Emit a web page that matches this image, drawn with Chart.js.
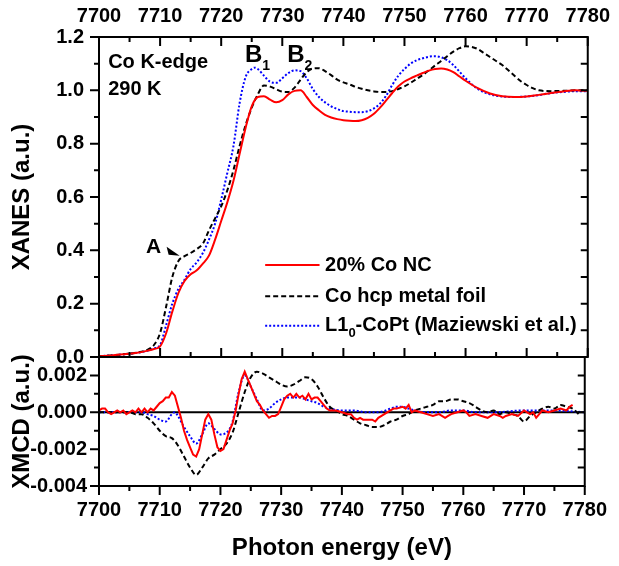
<!DOCTYPE html>
<html>
<head>
<meta charset="utf-8">
<script src="https://cdn.jsdelivr.net/npm/chart.js@4.4.1/dist/chart.umd.min.js"></script>
<style>
html, body { margin: 0; padding: 0; background: #fff; }
#wrap { position: relative; width: 619px; height: 566px; }
#wrap canvas { position: absolute; left: 0; top: 0; }
</style>
</head>
<body>
<div id="wrap">
  <canvas id="xanes" width="619" height="566"></canvas>
  <canvas id="xmcd" width="619" height="566"></canvas>
</div>
<script>
// --- Data ---
const energyTicks = [7700, 7710, 7720, 7730, 7740, 7750, 7760, 7770, 7780];
const xanesTicks = [0.0, 0.2, 0.4, 0.6, 0.8, 1.0, 1.2];
const xmcdTicks = [-0.004, -0.002, 0.000, 0.002];

// XANES, 20% Co NC
const ncE = [7700, 7702, 7704, 7706, 7708, 7709, 7710, 7711, 7712, 7713, 7714, 7715, 7716, 7717, 7718, 7719, 7720,
  7721, 7722, 7723, 7724, 7725, 7726, 7727, 7728, 7729, 7730, 7731, 7732, 7733, 7734, 7735, 7736, 7737, 7738, 7739,
  7740, 7741, 7742, 7743, 7744, 7745, 7746, 7747, 7748, 7749, 7750, 7751, 7752, 7753, 7754, 7755, 7756, 7757, 7758,
  7759, 7760, 7762, 7764, 7766, 7768, 7770, 7772, 7774, 7776, 7778, 7780];
const ncXanes = [0.003, 0.006, 0.010, 0.015, 0.024, 0.030, 0.040, 0.090, 0.170, 0.240, 0.285, 0.310, 0.325, 0.350,
  0.380, 0.440, 0.510, 0.580, 0.660, 0.760, 0.860, 0.940, 0.975, 0.978, 0.965, 0.955, 0.963, 0.985, 0.998, 1.000,
  0.975, 0.945, 0.925, 0.908, 0.898, 0.892, 0.888, 0.886, 0.885, 0.888, 0.897, 0.912, 0.935, 0.962, 0.990, 1.015,
  1.033, 1.045, 1.055, 1.065, 1.074, 1.080, 1.082, 1.078, 1.068, 1.052, 1.036, 1.008, 0.988, 0.978, 0.975, 0.977,
  0.983, 0.990, 0.996, 1.000, 0.998];

// XANES, Co hcp metal foil
const foilE = [7700, 7702, 7704, 7706, 7708, 7709, 7710, 7711, 7712, 7713, 7714, 7715, 7716, 7717, 7718, 7719, 7720,
  7721, 7722, 7723, 7724, 7725, 7726, 7727, 7728, 7729, 7730, 7731, 7732, 7733, 7734, 7735, 7736, 7737, 7738, 7739,
  7740, 7741, 7742, 7743, 7744, 7745, 7746, 7747, 7748, 7749, 7750, 7751, 7752, 7753, 7754, 7755, 7756, 7757, 7758,
  7759, 7760, 7761, 7762, 7763, 7764, 7765, 7766, 7767, 7768, 7769, 7770, 7771, 7772, 7774, 7776, 7778, 7780];
const foilXanes = [0.003, 0.006, 0.010, 0.016, 0.028, 0.045, 0.090, 0.190, 0.300, 0.360, 0.378, 0.390, 0.405, 0.425,
  0.475, 0.520, 0.565, 0.625, 0.700, 0.790, 0.870, 0.935, 0.985, 1.018, 1.014, 1.004, 0.995, 0.994, 1.010, 1.040,
  1.068, 1.082, 1.083, 1.072, 1.057, 1.040, 1.030, 1.022, 1.013, 1.006, 1.000, 0.996, 0.994, 0.994, 0.997, 1.005,
  1.015, 1.028, 1.043, 1.058, 1.075, 1.093, 1.110, 1.128, 1.145, 1.158, 1.165, 1.163, 1.155, 1.140, 1.125, 1.110,
  1.095, 1.075, 1.055, 1.035, 1.020, 1.008, 1.000, 0.997, 0.998, 1.000, 1.000];

// XANES, L1_0-CoPt
const coptE = [7700, 7702, 7704, 7706, 7708, 7709, 7710, 7711, 7712, 7713, 7714, 7715, 7716, 7717, 7718, 7719, 7720,
  7721, 7722, 7723, 7724, 7725, 7725.5, 7726, 7727, 7728, 7729, 7730, 7731, 7732, 7733, 7734, 7735, 7736, 7737, 7738,
  7739, 7740, 7741, 7742, 7743, 7744, 7745, 7746, 7747, 7748, 7749, 7750, 7751, 7752, 7753, 7754, 7755, 7756, 7757,
  7758, 7759, 7760, 7762, 7764, 7766, 7768, 7770, 7772, 7774, 7776, 7778, 7780];
const coptXanes = [0.003, 0.006, 0.010, 0.015, 0.024, 0.032, 0.045, 0.120, 0.200, 0.255, 0.290, 0.330, 0.355, 0.390,
  0.440, 0.500, 0.590, 0.690, 0.790, 0.950, 1.050, 1.080, 1.085, 1.080, 1.055, 1.032, 1.028, 1.045, 1.065, 1.075,
  1.072, 1.045, 1.005, 0.975, 0.955, 0.940, 0.930, 0.922, 0.920, 0.918, 0.918, 0.922, 0.932, 0.950, 0.980, 1.020,
  1.055, 1.080, 1.100, 1.113, 1.120, 1.126, 1.128, 1.124, 1.113, 1.095, 1.070, 1.045, 1.005, 0.985, 0.977, 0.975,
  0.977, 0.982, 0.990, 0.994, 0.997, 0.997];

// XMCD, 20% Co NC (noisy trace)
const ncXmcdE = [7700, 7700.5, 7701, 7701.5, 7702, 7702.5, 7703, 7703.5, 7704, 7704.5, 7705, 7705.5, 7706, 7706.5,
  7707, 7707.5, 7708, 7708.5, 7709, 7709.5, 7710, 7710.5, 7711, 7711.5, 7712, 7712.5, 7713, 7713.5, 7714, 7714.5,
  7715, 7715.5, 7716, 7716.5, 7717, 7717.5, 7718, 7718.5, 7719, 7719.5, 7720, 7720.5, 7721, 7721.5, 7722, 7722.5,
  7723, 7723.5, 7724, 7724.5, 7725, 7725.5, 7726, 7726.5, 7727, 7727.5, 7728, 7728.5, 7729, 7729.5, 7730, 7730.5,
  7731, 7731.5, 7732, 7732.5, 7733, 7733.5, 7734, 7734.5, 7735, 7735.5, 7736, 7736.5, 7737, 7737.5, 7738, 7739,
  7740, 7741, 7741.5, 7742, 7742.5, 7743, 7743.5, 7744, 7745, 7745.5, 7746, 7747, 7748, 7748.5, 7749, 7750, 7750.5,
  7751, 7751.5, 7752, 7753, 7754, 7755, 7756, 7757, 7757.5, 7758, 7759, 7760, 7760.5, 7761, 7762, 7763, 7764, 7765,
  7766, 7766.5, 7767, 7768, 7769, 7770, 7770.5, 7771, 7771.5, 7772, 7772.5, 7773, 7774, 7775, 7776, 7777, 7777.5, 7778];
const ncXmcd = [0.0001, 0.0002, 0.0002, 0.0000, -0.0001, 0.0000, 0.0001, 0.0000, 0.0001, -0.0001, 0.0000, 0.0001,
  0.0000, 0.0002, 0.0000, 0.0002, 0.0000, 0.0002, 0.0001, 0.0003, 0.0005, 0.0006, 0.0008, 0.0008, 0.0011, 0.0009,
  0.0003, -0.0003, -0.0010, -0.0015, -0.0019, -0.0023, -0.0024, -0.0020, -0.0012, -0.0004, -0.0001, -0.0004,
  -0.0012, -0.0019, -0.0021, -0.0020, -0.0015, -0.0010, -0.0006, 0.0001, 0.0010, 0.0018, 0.0022, 0.0018, 0.0014,
  0.0010, 0.0006, 0.0004, 0.0001, -0.0001, -0.0003, -0.0002, -0.0002, -0.0001, 0.0003, 0.0007, 0.0009, 0.0010,
  0.0008, 0.0010, 0.0008, 0.0009, 0.0007, 0.0010, 0.0007, 0.0008, 0.0008, 0.0006, 0.0004, 0.0002, 0.0001, 0.0001,
  0.0000, -0.0001, -0.0001, -0.0003, -0.0004, -0.0003, -0.0004, -0.0004, -0.0004, -0.0005, -0.0003, -0.0001, 0.0001,
  0.0002, 0.0002, 0.0003, 0.0002, 0.0004, 0.0000, 0.0001, 0.0000, -0.0001, -0.0002, -0.0001, -0.0003, -0.0002,
  -0.0001, 0.0000, 0.0001, 0.0000, -0.0002, -0.0001, -0.0002, -0.0003, -0.0001, -0.0002, -0.0003, -0.0002, -0.0001,
  -0.0002, 0.0001, 0.0000, -0.0001, 0.0000, -0.0003, -0.0001, 0.0001, 0.0000, 0.0001, 0.0002, 0.0001, 0.0003, 0.0004];

// XMCD, Co hcp metal foil
const foilXmcdE = [7700, 7701, 7702, 7703, 7704, 7705, 7706, 7707, 7708, 7709, 7710, 7711, 7712, 7713, 7714, 7715,
  7716, 7717, 7718, 7719, 7720, 7721, 7722, 7723, 7724, 7725, 7726, 7727, 7728, 7729, 7730, 7731, 7732, 7733, 7734,
  7735, 7736, 7737, 7738, 7739, 7740, 7741, 7742, 7743, 7744, 7745, 7746, 7747, 7748, 7749, 7750, 7751, 7752, 7753,
  7754, 7755, 7756, 7757, 7758, 7759, 7760, 7761, 7762, 7763, 7764, 7765, 7766, 7767, 7768, 7769, 7770, 7771, 7772,
  7773, 7774, 7775, 7776, 7777, 7778, 7779];
const foilXmcd = [0.0000, 0.0000, 0.0000, 0.0000, 0.0000, 0.0000, -0.0001, -0.0001, -0.0003, -0.0006, -0.0010,
  -0.0013, -0.0014, -0.0018, -0.0024, -0.0030, -0.0034, -0.0030, -0.0025, -0.0023, -0.0020, -0.0017, -0.0011,
  0.0000, 0.0011, 0.0019, 0.0022, 0.0021, 0.0019, 0.0017, 0.0015, 0.0014, 0.0015, 0.0017, 0.0019, 0.0018, 0.0014,
  0.0008, 0.0003, 0.0001, -0.0001, -0.0002, -0.0004, -0.0006, -0.0007, -0.0008, -0.0008, -0.0007, -0.0005, -0.0004,
  -0.0002, -0.0001, 0.0001, 0.0002, 0.0003, 0.0004, 0.0006, 0.0006, 0.0007, 0.0007, 0.0006, 0.0005, 0.0003, 0.0001,
  0.0000, 0.0001, -0.0001, 0.0000, -0.0001, -0.0002, -0.0005, -0.0002, 0.0000, 0.0002, 0.0003, 0.0002, 0.0004,
  0.0003, 0.0002, -0.0001];

// XMCD, L1_0-CoPt
const coptXmcdE = [7700, 7702, 7704, 7706, 7707, 7708, 7709, 7710, 7711, 7712, 7712.5, 7713, 7714, 7715, 7716, 7717,
  7718, 7719, 7720, 7721, 7722, 7723, 7724, 7725, 7726, 7727, 7728, 7729, 7730, 7731, 7732, 7733, 7734, 7735, 7736,
  7737, 7738, 7740, 7742, 7744, 7746, 7748, 7749, 7750, 7751, 7752, 7754, 7756, 7758, 7760, 7762, 7765, 7770, 7775, 7780];
const coptXmcd = [0.0000, 0.0000, 0.0000, 0.0000, 0.0000, -0.0001, -0.0002, -0.0004, -0.0005, -0.0001, 0.0000,
  -0.0002, -0.0008, -0.0013, -0.0017, -0.0012, -0.0006, -0.0009, -0.0012, -0.0011, -0.0005, 0.0011, 0.0020, 0.0014,
  0.0007, 0.0001, 0.0002, 0.0005, 0.0007, 0.0008, 0.0008, 0.0008, 0.0007, 0.0006, 0.0005, 0.0003, 0.0002, 0.0001,
  0.0001, 0.0000, 0.0000, 0.0002, 0.0003, 0.0003, 0.0002, 0.0001, 0.0000, 0.0000, 0.0001, 0.0001, 0.0000, 0.0000,
  0.0001, 0.0001, 0.0000];

// --- Layout (plot frame edges in page pixels) ---
const W = 619, H = 566, LEFT = 99, RIGHT = 593, TOP = 37, MID = 357, BOTTOM = 486;
const FONT = 'Liberation Sans, Arial, Helvetica, sans-serif';

Chart.defaults.font.family = FONT;
Chart.defaults.font.weight = 'bold';
Chart.defaults.color = '#000';

const pts = (xs, ys) => xs.map((x, i) => ({ x, y: ys[i] }));
const tickFont = { size: 20, weight: 'bold' };
const titleFont = { size: 24, weight: 'bold' };

const series = [
  { label: '20% Co NC', color: '#ff0000', dash: [] },
  { label: 'Co hcp metal foil', color: '#000000', dash: [5, 3] },
  { label: 'L1₀-CoPt (Maziewski et al.)', color: '#0000ff', dash: [2, 2] }
];

function lineSet(s, data, smooth) {
  return {
    label: s.label, data, borderColor: s.color, borderDash: s.dash, borderWidth: 2,
    pointRadius: 0, fill: false, tension: smooth ? 0.4 : 0,
    cubicInterpolationMode: smooth ? 'monotone' : 'default'
  };
}

// frame box + inward/outward tick marks, placed with the chart's own scales
const frameTicks = {
  id: 'frameTicks',
  beforeDatasetsDraw(chart, args, o) {
    if (!o.zeroLine) return;
    const { ctx, chartArea: a, scales: { y } } = chart;
    ctx.save();
    ctx.strokeStyle = '#000'; ctx.lineWidth = 2;
    ctx.beginPath();
    ctx.moveTo(a.left, y.getPixelForValue(0)); ctx.lineTo(a.right, y.getPixelForValue(0));
    ctx.stroke();
    ctx.restore();
  },
  afterDatasetsDraw(chart, args, o) {
    const { ctx, chartArea: a, scales: { x, y } } = chart;
    ctx.save();
    ctx.strokeStyle = '#000';
    ctx.lineWidth = 2;
    ctx.beginPath();
    for (let e = x.min; e <= x.max + 1e-9; e += 5) {
      const px = x.getPixelForValue(e), len = e % 10 === 0 ? 9 : 5;
      if (o.top) { ctx.moveTo(px, a.top); ctx.lineTo(px, a.top + len); }
      if (o.bottom === 'in') { ctx.moveTo(px, a.bottom); ctx.lineTo(px, a.bottom - len); }
      if (o.bottom === 'out') { ctx.moveTo(px, a.bottom); ctx.lineTo(px, a.bottom + len); }
    }
    const n = Math.round((y.max - y.min) / o.minor);
    for (let i = 0; i <= n; i++) {
      const v = y.min + i * o.minor, py = y.getPixelForValue(v);
      const major = i % 2 === 0;
      ctx.moveTo(a.left, py); ctx.lineTo(a.left - (major ? 9 : 5), py);
      ctx.moveTo(a.right, py); ctx.lineTo(a.right - 7, py);
    }
    ctx.stroke();
    ctx.strokeRect(a.left, a.top, a.right - a.left, a.bottom - a.top);
    ctx.restore();
  }
};

// text labels, arrow and legend of the upper panel, anchored in data units
const notes = {
  id: 'notes',
  afterDraw(chart) {
    const { ctx, scales: { x, y } } = chart;
    const X = v => x.getPixelForValue(v), Y = v => y.getPixelForValue(v);
    const put = (s, px, py, size, base) => {
      ctx.font = `bold ${size}px ${FONT}`;
      ctx.textBaseline = base || 'alphabetic';
      ctx.fillText(s, px, py);
      return px + ctx.measureText(s).width;
    };
    ctx.save();
    ctx.fillStyle = '#000';
    put('Co K-edge', X(7701.5), Y(1.083), 20);
    put('290 K', X(7701.5), Y(0.982), 20);
    let e = put('B', X(7723.9), Y(1.107), 24);
    put('1', e, Y(1.075), 14);
    e = put('B', X(7730.8), Y(1.107), 24);
    put('2', e, Y(1.075), 14);
    put('A', X(7707.7), Y(0.391), 21);
    // arrowhead pointing at the pre-edge shoulder
    const tx = X(7713.2), ty = Y(0.38);
    ctx.beginPath();
    ctx.moveTo(tx, ty); ctx.lineTo(tx - 13, ty - 9); ctx.lineTo(tx - 11, ty - 1);
    ctx.closePath(); ctx.fill();

    // legend
    const rows = [0.345, 0.228, 0.117];
    chart.data.datasets.forEach((ds, i) => {
      const py = Y(rows[i]);
      ctx.strokeStyle = ds.borderColor; ctx.lineWidth = 2; ctx.setLineDash(ds.borderDash);
      ctx.beginPath(); ctx.moveTo(X(7727.2), py); ctx.lineTo(X(7736.1), py); ctx.stroke();
      ctx.setLineDash([]);
      const tx0 = X(7737.0);
      if (i === 2) {
        let p = put('L1', tx0, py, 20, 'middle');
        p = put('0', p, py + 8, 13, 'middle');
        put('-CoPt (Maziewski et al.)', p, py, 20, 'middle');
      } else {
        put(ds.label, tx0, py, 20, 'middle');
      }
    });
    ctx.restore();
  }
};

// --- Upper panel: XANES ---
new Chart(document.getElementById('xanes'), {
  type: 'line',
  data: {
    datasets: [
      lineSet(series[0], pts(ncE, ncXanes), true),
      lineSet(series[1], pts(foilE, foilXanes), true),
      lineSet(series[2], pts(coptE, coptXanes), true)
    ]
  },
  options: {
    responsive: false, animation: false, devicePixelRatio: 1,
    layout: { padding: { left: 0, right: W - RIGHT, top: 0, bottom: H - MID } },
    plugins: {
      legend: { display: false }, tooltip: { enabled: false },
      frameTicks: { top: true, bottom: 'in', minor: 0.1 }
    },
    scales: {
      x: { type: 'linear', min: 7700, max: 7780, display: false },
      xTop: {
        type: 'linear', position: 'top', min: 7700, max: 7780,
        afterBuildTicks: s => { s.ticks = energyTicks.map(value => ({ value })); },
        ticks: { font: tickFont, color: '#000', padding: 9, maxRotation: 0, callback: v => String(v) },
        grid: { display: false, drawTicks: false }, border: { display: false },
        afterFit: s => { s.height = TOP; }
      },
      y: {
        type: 'linear', min: 0, max: 1.2,
        afterBuildTicks: s => { s.ticks = xanesTicks.map(value => ({ value })); },
        ticks: { font: tickFont, color: '#000', padding: 15, callback: v => v.toFixed(1) },
        grid: { display: false, drawTicks: false }, border: { display: false },
        title: { display: true, text: 'XANES (a.u.)', font: titleFont, color: '#000', padding: { top: 8, bottom: 0 } },
        afterFit: s => { s.width = LEFT; }
      }
    }
  },
  plugins: [frameTicks, notes]
});

// --- Lower panel: XMCD ---
new Chart(document.getElementById('xmcd'), {
  type: 'line',
  data: {
    datasets: [
      lineSet(series[0], pts(ncXmcdE, ncXmcd), false),
      lineSet(series[1], pts(foilXmcdE, foilXmcd), true),
      lineSet(series[2], pts(coptXmcdE, coptXmcd), true)
    ]
  },
  options: {
    responsive: false, animation: false, devicePixelRatio: 1,
    layout: { padding: { left: 0, right: W - RIGHT, top: MID, bottom: 0 } },
    plugins: {
      legend: { display: false }, tooltip: { enabled: false },
      frameTicks: { top: false, bottom: 'out', minor: 0.001, zeroLine: true }
    },
    scales: {
      x: {
        type: 'linear', position: 'bottom', min: 7700, max: 7780,
        afterBuildTicks: s => { s.ticks = energyTicks.map(value => ({ value })); },
        ticks: { font: tickFont, color: '#000', padding: 12, maxRotation: 0, callback: v => String(v) },
        grid: { display: false, drawTicks: false }, border: { display: false },
        title: { display: true, text: 'Photon energy (eV)', font: titleFont, color: '#000', padding: { top: 0, bottom: 3 } },
        afterFit: s => { s.height = H - BOTTOM; }
      },
      y: {
        type: 'linear', min: -0.004, max: 0.003,
        afterBuildTicks: s => { s.ticks = xmcdTicks.map(value => ({ value })); },
        ticks: { font: tickFont, color: '#000', padding: 12, callback: v => v.toFixed(3) },
        grid: { display: false, drawTicks: false }, border: { display: false },
        title: { display: true, text: 'XMCD (a.u.)', font: titleFont, color: '#000', padding: { top: 8, bottom: 0 } },
        afterFit: s => { s.width = LEFT; }
      }
    }
  },
  plugins: [frameTicks]
});
</script>
</body>
</html>
